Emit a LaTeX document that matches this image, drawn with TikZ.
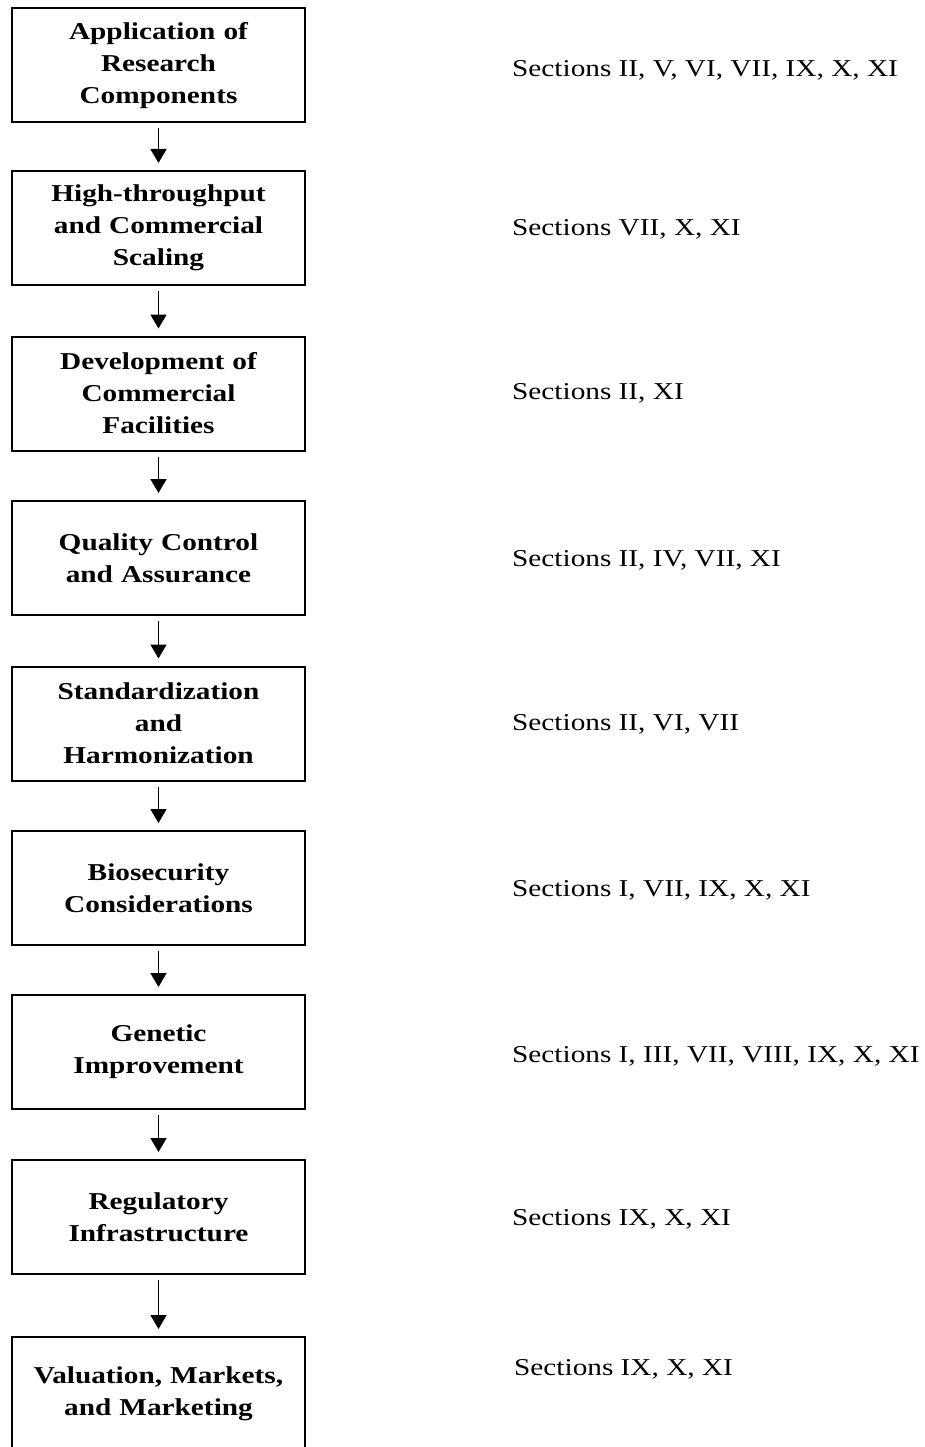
\documentclass[tikz,border=0pt]{standalone}
\usepackage{fontspec}
\setmainfont[FakeStretch=1.21]{Liberation Serif}
\usetikzlibrary{arrows.meta}
\begin{document}
\begin{tikzpicture}[x=1pt,y=-1pt,
  stagebox/.style={draw,line width=2pt,minimum width=293pt,minimum height=114pt,
    text width=285pt,align=center,inner sep=0pt,
    font=\fontsize{24.2}{32}\selectfont\bfseries},
  seclabel/.style={anchor=base west,inner sep=0pt,font=\fontsize{24.2}{28}\selectfont},
  flow/.style={line width=1.6pt,-{Triangle[width=16pt,length=14pt]},shorten <=5pt,shorten >=7pt}]
\useasboundingbox (0,0) rectangle (924,1447);
\node[stagebox] (b1) at (158.5,65.5) {Application of\\Research\\Components};
\node[stagebox] (b2) at (158.5,228) {High-throughput\\and Commercial\\Scaling};
\node[stagebox] (b3) at (158.5,393.5) {Development of\\Commercial\\Facilities};
\node[stagebox] (b4) at (158.5,558) {Quality Control\\and Assurance};
\node[stagebox] (b5) at (158.5,723.5) {Standardization\\and\\Harmonization};
\node[stagebox] (b6) at (158.5,888) {Biosecurity\\Considerations};
\node[stagebox] (b7) at (158.5,1052) {Genetic\\Improvement};
\node[stagebox] (b8) at (158.5,1217) {Regulatory\\Infrastructure};
\node[stagebox] (b9) at (158.5,1394) {Valuation, Markets,\\and Marketing};
\foreach \a/\b in {b1/b2,b2/b3,b3/b4,b4/b5,b5/b6,b6/b7,b7/b8,b8/b9}
  \draw[flow] (\a.south) -- (\b.north);
\node[seclabel] (s1) at (512,77) {Sections II, V, VI, VII, IX, X, XI};
\node[seclabel] (s2) at (512,236) {Sections VII, X, XI};
\node[seclabel] (s3) at (512,399) {Sections II, XI};
\node[seclabel] (s4) at (512,566) {Sections II, IV, VII, XI};
\node[seclabel] (s5) at (512,730) {Sections II, VI, VII};
\node[seclabel] (s6) at (512,896) {Sections I, VII, IX, X, XI};
\node[seclabel] (s7) at (512,1062) {Sections I, III, VII, VIII, IX, X, XI};
\node[seclabel] (s8) at (512,1225) {Sections IX, X, XI};
\node[seclabel] (s9) at (514,1375) {Sections IX, X, XI};
\end{tikzpicture}
\end{document}
